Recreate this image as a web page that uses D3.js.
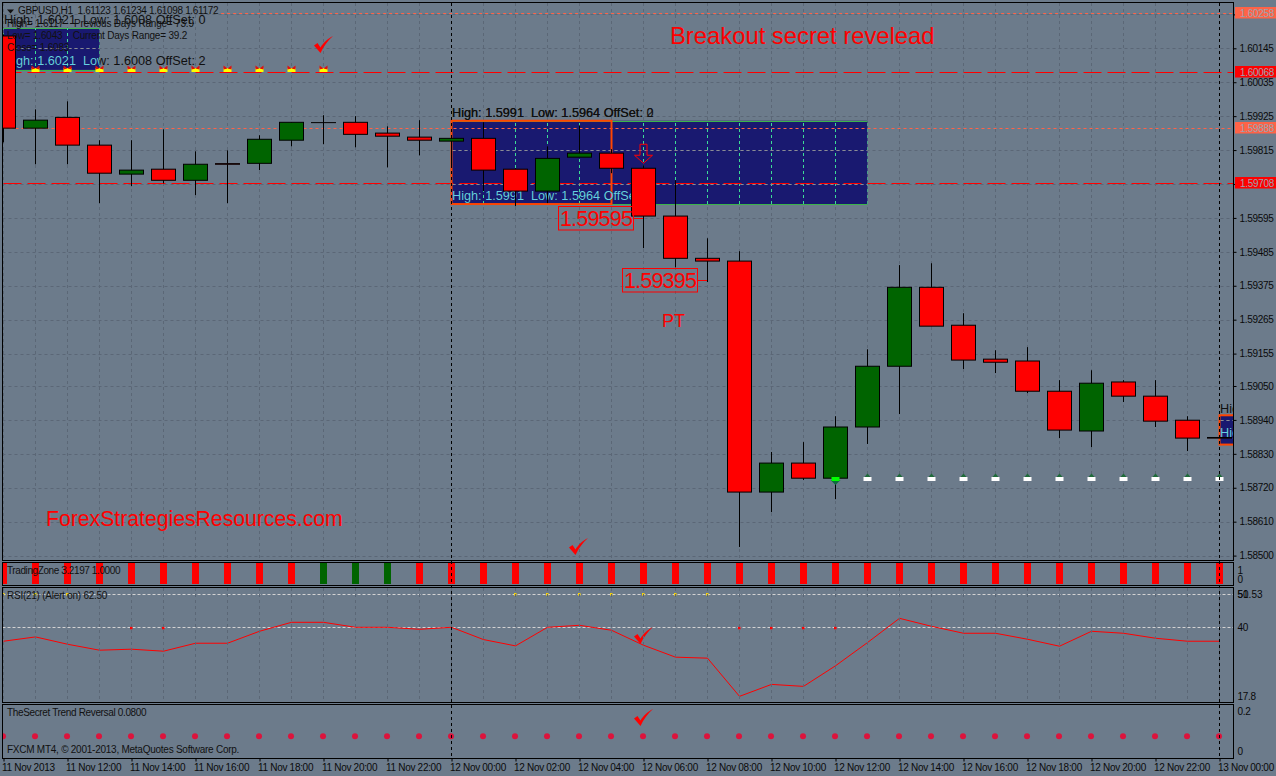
<!DOCTYPE html>
<html>
<head>
<meta charset="utf-8">
<script src="https://cdn.jsdelivr.net/npm/d3@7"></script>
<style>
html, body { margin: 0; padding: 0; background: #6c7b8b; overflow: hidden; }
text { font-family: "Liberation Sans", Arial, sans-serif; }
.axisTxt text { font-size: 10px; letter-spacing: -0.3px; fill: #0a0a0a; }
</style>
</head>
<body>
<div id="chart"></div>
<script>
// candles, one per hour from 11 Nov 10:00
var opens = [1.60185,1.59886,1.59921,1.59831,1.59737,1.59753,1.59717,1.59771,1.59772,1.59847,1.59904,1.59905,1.59870,1.59857,1.59844,1.59853,1.59753,1.59682,1.59792,1.59805,1.59756,1.59601,1.59464,1.59455,1.58706,1.58800,1.58751,1.58917,1.59114,1.59370,1.59247,1.59137,1.59131,1.59033,1.58904,1.59063,1.59017,1.58939,1.58883];
var highs = [1.60190,1.59947,1.59973,1.59847,1.59847,1.59882,1.59811,1.59814,1.59863,1.59905,1.59928,1.59925,1.59892,1.59912,1.59863,1.59905,1.59756,1.59827,1.59895,1.59818,1.59766,1.59717,1.59529,1.59487,1.58836,1.58868,1.58952,1.59169,1.59442,1.59448,1.59286,1.59166,1.59176,1.59069,1.59101,1.59069,1.59069,1.58952,1.58883];
var lows = [1.59840,1.59769,1.59769,1.59643,1.59698,1.59707,1.59669,1.59643,1.59750,1.59827,1.59834,1.59824,1.59759,1.59798,1.59759,1.59682,1.59633,1.59643,1.59792,1.59740,1.59497,1.59435,1.59387,1.58528,1.58641,1.58745,1.58683,1.58862,1.58959,1.59244,1.59105,1.59092,1.59027,1.58881,1.58852,1.58998,1.58917,1.58839,1.58881];
var closes = [1.59886,1.59912,1.59831,1.59740,1.59750,1.59717,1.59769,1.59769,1.59850,1.59905,1.59904,1.59866,1.59860,1.59847,1.59853,1.59750,1.59682,1.59788,1.59805,1.59756,1.59601,1.59464,1.59455,1.58706,1.58800,1.58751,1.58917,1.59114,1.59370,1.59244,1.59134,1.59127,1.59033,1.58907,1.59059,1.59017,1.58936,1.58881,1.58881];

var rsiValues = [35.8,37.1,34.9,33.1,33.4,32.8,35.2,35.2,38.8,41.5,41.5,40.0,40.0,39.4,40.0,36.3,34.4,40.0,40.6,39.1,34.6,31.0,30.7,19.2,22.8,22.2,28.4,35.4,42.7,40.3,38.2,38.2,36.4,34.3,38.8,38.2,36.7,35.8,35.8];
var rsiLevels = [50, 40];
var rsiYellowBars = [0,1,2,16,17,18,19,20,21,22];
var rsiRedBars = [4,5,23,24,25,26];

var tzGreenBars = [10,11,12];
var secretValue = 0.08;

var priceTicks = [1.60255,1.60145,1.60035,1.59925,1.59815,1.59705,1.59595,1.59485,1.59375,1.59265,1.59155,1.59050,1.58940,1.58830,1.58720,1.58610,1.58500];
var levelPrices = [1.60258,1.60068,1.59888,1.59708];

var timeBars = [0,2,4,6,8,10,12,14,16,18,20,22,24,26,28,30,32,34,36,38];
var timeLabels = ["11 Nov 2013","11 Nov 12:00","11 Nov 14:00","11 Nov 16:00","11 Nov 18:00","11 Nov 20:00","11 Nov 22:00","12 Nov 00:00","12 Nov 02:00","12 Nov 04:00","12 Nov 06:00","12 Nov 08:00","12 Nov 10:00","12 Nov 12:00","12 Nov 14:00","12 Nov 16:00","12 Nov 18:00","12 Nov 20:00","12 Nov 22:00","13 Nov 00:00"];

// from bar, to bar, high, low
var zoneFrom = [0,14,38];
var zoneTo = [3,27,42];
var zoneHigh = [1.6021,1.5991,1.58955];
var zoneLow = [1.60075,1.5964,1.58860];

var yellowBars = [1,2,3,4,5,6,7,8,9,10];
var whiteBars = [27,28,29,30,31,32,33,34,35,36,37,38];

var svgWidth = 1276;
var svgHeight = 776;
var bg = "#6c7b8b";

var svg = d3.select("#chart").append("svg")
    .attr("width", svgWidth)
    .attr("height", svgHeight)
    .style("display", "block");

svg.append("rect").attr("width", svgWidth).attr("height", svgHeight).attr("fill", bg);

var left = 2.5, right = 1233.5;
var panes = {
    main: [2.5, 560.5],
    tz: [562.5, 585.5],
    rsi: [587.5, 702.5],
    secret: [704.5, 758.5]
};

var allBars = d3.range(opens.length);
var x = d3.scaleLinear().domain([0, 38]).range([3.5, 1219.5]);
var y = d3.scaleLinear().domain([1.60145, 1.585]).range([48.3, 555.6]);
var yTz = d3.scaleLinear().domain([0, 1]).range([584, 563]);
var yRsi = d3.scaleLinear().domain([17.8, 51.53]).range([701, 589]);
var ySecret = d3.scaleLinear().domain([0, 0.2]).range([753.5, 710.5]);

var defs = svg.append("defs");
defs.append("clipPath").attr("id", "clipAll").append("rect")
    .attr("x", left).attr("y", 2.5).attr("width", right - left).attr("height", 756);
defs.append("clipPath").attr("id", "clipMain").append("rect")
    .attr("x", left).attr("y", 2.5).attr("width", right - left).attr("height", 558);
defs.append("clipPath").attr("id", "clipZones").selectAll("rect")
    .data(zoneFrom).enter().append("rect")
    .attr("x", (d, i) => x(d))
    .attr("y", (d, i) => y(zoneHigh[i]))
    .attr("width", (d, i) => x(zoneTo[i]) - x(d))
    .attr("height", (d, i) => y(zoneLow[i]) - y(zoneHigh[i]));

var main = svg.append("g").attr("clip-path", "url(#clipMain)");

// zones
main.selectAll(".zone").data(zoneFrom).enter().append("rect")
    .attr("class", "zone")
    .attr("x", (d, i) => x(d))
    .attr("y", (d, i) => y(zoneHigh[i]))
    .attr("width", (d, i) => x(zoneTo[i]) - x(d))
    .attr("height", (d, i) => y(zoneLow[i]) - y(zoneHigh[i]))
    .attr("fill", "#191970");

[zoneHigh, zoneLow].forEach(function(edge) {
    main.selectAll(null).data(zoneFrom.slice(0, 2)).enter().append("line")
        .attr("x1", d => x(d))
        .attr("x2", (d, i) => x(zoneTo[i]))
        .attr("y1", (d, i) => Math.round(y(edge[i])) + 0.5)
        .attr("y2", (d, i) => Math.round(y(edge[i])) + 0.5)
        .attr("stroke", "#3cb44b");
});

// grid
function grid(g, color, y0, y1) {
    g.selectAll(null).data(allBars).enter().append("line")
        .attr("x1", d => x(d)).attr("x2", d => x(d))
        .attr("y1", y0).attr("y2", y1)
        .attr("stroke", color)
        .attr("stroke-dasharray", "3,3");
}
var gridColor = "#5b6776";
grid(main, gridColor, 3, 560);
main.selectAll(".hgrid").data(priceTicks).enter().append("line")
    .attr("x1", left).attr("x2", right)
    .attr("y1", d => Math.round(y(d)) + 0.5).attr("y2", d => Math.round(y(d)) + 0.5)
    .attr("stroke", gridColor)
    .attr("stroke-dasharray", "3,3");

var zoneGrid = main.append("g").attr("clip-path", "url(#clipZones)");
grid(zoneGrid, "#3ddc97", 3, 560);
zoneGrid.selectAll(null).data(priceTicks).enter().append("line")
    .attr("x1", left).attr("x2", right)
    .attr("y1", d => Math.round(y(d)) + 0.5).attr("y2", d => Math.round(y(d)) + 0.5)
    .attr("stroke", "#8b8b96")
    .attr("stroke-dasharray", "3,3");

// price levels
var levelColor = ["#ff6347", "#ff0000", "#ff6347", "#ff0000"];
var levelDash = ["3,3", "18,6", "3,3", "18,6"];
var levelStart = [6.8, 0, 0, 0];
main.selectAll(".level").data(levelPrices).enter().append("line")
    .attr("class", "level")
    .attr("x1", (d, i) => x(levelStart[i]))
    .attr("x2", right)
    .attr("y1", d => Math.round(y(d)) + 0.5)
    .attr("y2", d => Math.round(y(d)) + 0.5)
    .attr("stroke", (d, i) => levelColor[i])
    .attr("stroke-dasharray", (d, i) => levelDash[i]);

// orange boxes round the first hours of the zones
var boxFrom = [14, 38];
var boxTo = [19, 42];
var boxHigh = [1.5991, 1.58955];
var boxLow = [1.5964, 1.58860];
main.selectAll(".box").data(boxFrom).enter().append("rect")
    .attr("class", "box")
    .attr("x", d => x(d))
    .attr("y", (d, i) => y(boxHigh[i]))
    .attr("width", (d, i) => x(boxTo[i]) - x(d))
    .attr("height", (d, i) => y(boxLow[i]) - y(boxHigh[i]))
    .attr("fill", "none")
    .attr("stroke", "#ff4500")
    .attr("stroke-width", 2);

// zone captions
var captionFont = 12.7;
function caption(txt, px, py, color, clip) {
    var t = main.append("text")
        .attr("x", px).attr("y", py)
        .attr("font-size", captionFont)
        .attr("fill", color)
        .style("white-space", "pre")
        .text(txt);
    if (clip) t.attr("clip-path", "url(#clipZones)");
    return t;
}
var topCaption = "High: 1.6021  Low: 1.6008 OffSet: ";
var midCaption = "High: 1.5991  Low: 1.5964 OffSet: ";
var inkColor = "#101010";
var zoneText = "#66cfe6";
caption(topCaption + "0", 4, 24, inkColor);
caption(topCaption + "2", 4, 65, inkColor);
caption(topCaption + "2", 4, 65, zoneText, true);
caption(midCaption + "0", 452, 116.5, inkColor);
caption(midCaption + "2", 452, 116.5, inkColor);
caption(midCaption + "2", 452, 200, inkColor);
caption(midCaption + "2", 452, 200, zoneText, true);
caption("High:", 1220, 413, inkColor);
caption("High:", 1220, 437, inkColor);
caption("High:", 1220, 437, zoneText, true);

// leaders for the two targets
var targetBars = [20, 22];
var targetPrices = [1.59595, 1.59395];
main.selectAll(".leader").data(targetPrices).enter().append("line")
    .attr("class", "leader")
    .attr("x1", (d, i) => x(targetBars[i]) - 10).attr("x2", (d, i) => x(targetBars[i]))
    .attr("y1", d => Math.round(y(d)) + 0.5).attr("y2", d => Math.round(y(d)) + 0.5)
    .attr("stroke", "#ff0000");

// candles
var candles = main.selectAll(".candle").data(allBars).enter().append("g").attr("class", "candle");
candles.append("line")
    .attr("x1", d => x(d)).attr("x2", d => x(d))
    .attr("y1", d => y(highs[d])).attr("y2", d => y(lows[d]))
    .attr("stroke", "#000");
candles.append("rect")
    .attr("x", d => x(d) - 12)
    .attr("width", 24)
    .attr("y", d => y(Math.max(opens[d], closes[d])))
    .attr("height", d => Math.max(0.01, Math.abs(y(opens[d]) - y(closes[d]))))
    .attr("fill", d => closes[d] > opens[d] ? "#006400" : "#ff0000")
    .attr("stroke", "#000");

// yellow markers on the upper level
var yMark = y(levelPrices[1]);
var yellow = main.selectAll(".ymark").data(yellowBars).enter().append("g")
    .attr("transform", d => `translate(${x(d)},${Math.round(yMark)})`);
yellow.append("rect").attr("x", -4).attr("y", -4).attr("width", 8).attr("height", 4).attr("fill", "#ffff00");
yellow.append("path").attr("d", "M-4,-6.5L0,-3.5L-4,-2.5ZM4,-6.5L0,-3.5L4,-2.5Z").attr("fill", "#e01010");

// white markers lower down
var whitePrice = 1.58755;
var white = main.selectAll(".wmark").data(whiteBars).enter().append("g")
    .attr("transform", d => `translate(${x(d)},${Math.round(y(whitePrice))})`);
white.append("path").attr("d", "M0,-3.5L3,0L-3,0Z").attr("fill", "#1f6b3a");
white.append("rect").attr("x", -4).attr("y", 0).attr("width", 8).attr("height", 4).attr("fill", "#ffffff");
var lime = main.append("g").attr("transform", `translate(${x(26)},${Math.round(y(whitePrice))})`);
lime.append("path").attr("d", "M-5,3L5,3L0,8Z").attr("fill", "#0e6b3e");
lime.append("rect").attr("x", -4).attr("y", 0).attr("width", 8).attr("height", 4).attr("fill", "#00ff00");

// sell arrow
main.append("path")
    .attr("transform", `translate(${x(20)},${y(1.59756)})`)
    .attr("d", "M-3.5,-24V-13H-9L0,-5L9,-13H3.5V-24Z")
    .attr("fill", "none")
    .attr("stroke", "#ff0000");

// target boxes
var targetText = ["1.59595", "1.59395"];
var targetG = main.selectAll(".target").data(targetPrices).enter().append("g")
    .attr("transform", (d, i) => `translate(${x(targetBars[i]) - 10},${Math.round(y(d))})`);
targetG.append("rect")
    .attr("x", -75).attr("y", -11.5).attr("width", 75).attr("height", 23.5)
    .attr("fill", "none").attr("stroke", "#ff0000");
targetG.append("text")
    .attr("x", -37.5).attr("y", 8)
    .attr("text-anchor", "middle")
    .attr("font-size", 21.5)
    .attr("letter-spacing", "-0.8px")
    .attr("fill", "#ff0000")
    .text((d, i) => targetText[i]);

// chart texts
svg.append("path").attr("d", "M7,9.5H14L10.5,13.5Z").attr("fill", "#111");
function label(txt, px, py, size, color, spacing) {
    return svg.append("text")
        .attr("x", px).attr("y", py)
        .attr("font-size", size)
        .attr("fill", color)
        .attr("letter-spacing", (spacing || 0) + "px")
        .style("white-space", "pre")
        .text(txt);
}
label("GBPUSD,H1  1.61123 1.61234 1.61098 1.61172", 18, 14, 10, inkColor, -0.35);
label("High= 1.6117    Previous Days Range= 73.9", 7, 27, 10, "#111", -0.2);
label("Low= 1.6043    Current Days Range= 39.2", 7, 39, 10, "#111", -0.2);
label("Close= 1.6083", 7, 51, 10, "#111", -0.2);
label("Breakout secret revelead", 670, 44, 23.8, "#ff0000");
label("ForexStrategiesResources.com", 46, 526, 21.2, "#ff0000");
label("PT", 662, 327, 18, "#ff0000");

// check marks
var checkPath = "M0,9.5L3.5,7L6.5,11.5C9,7 14,2.5 19,0C13.5,5 9.5,10.5 6.5,17Z";
var checks = [[314, 36], [569, 538], [634, 627], [634, 709]];
svg.selectAll(".check").data(checks).enter().append("path")
    .attr("d", checkPath)
    .attr("transform", d => `translate(${d[0]},${d[1]})`)
    .attr("fill", "#ff0000");

// TradingZone pane
var indicators = svg.append("g").attr("clip-path", "url(#clipAll)");
indicators.selectAll(".tz").data(allBars).enter().append("rect")
    .attr("x", d => x(d) - 3.5)
    .attr("width", 7)
    .attr("y", yTz(1))
    .attr("height", yTz(0) - yTz(1))
    .attr("fill", d => tzGreenBars.includes(d) ? "#006400" : "#ff0000");
label("TradingZone 3.2197 1.0000", 7, 574, 10, "#111", -0.4);

// RSI pane
var rsiGrid = svg.append("g");
grid(rsiGrid, gridColor, 588, 702);
indicators.selectAll(".rsiLevel").data(rsiLevels).enter().append("line")
    .attr("x1", left).attr("x2", right)
    .attr("y1", d => Math.round(yRsi(d)) + 0.5).attr("y2", d => Math.round(yRsi(d)) + 0.5)
    .attr("stroke", "#d3d3d3")
    .attr("stroke-dasharray", "3,2");
var rsiLine = d3.line().x((d, i) => x(i)).y(d => yRsi(d));
indicators.append("path")
    .attr("d", rsiLine(rsiValues))
    .attr("fill", "none")
    .attr("stroke", "#ff0000");
indicators.selectAll(".rsiY").data(rsiYellowBars).enter().append("rect")
    .attr("x", d => x(d) - 1.5).attr("y", yRsi(50) - 1)
    .attr("width", 2.5).attr("height", 2.5)
    .attr("fill", "#ffd700");
indicators.selectAll(".rsiR").data(rsiRedBars).enter().append("rect")
    .attr("x", d => x(d) - 1.5).attr("y", yRsi(40) - 0.5)
    .attr("width", 2.5).attr("height", 2.5)
    .attr("fill", "#ff0000");
label("RSI(21) (Alert on) 62.50", 7, 599, 10, "#111", -0.25);

// secret trend pane
indicators.selectAll(".dot").data(allBars).enter().append("circle")
    .attr("cx", d => x(d) - 0.5)
    .attr("cy", ySecret(secretValue))
    .attr("r", 3)
    .attr("fill", "#dc143c");
label("TheSecret Trend Reversal 0.0800", 7, 716, 10, "#111", -0.35);
label("FXCM MT4, © 2001-2013, MetaQuotes Software Corp.", 7, 753, 10, "#111", -0.25);

// period separators
var separators = [14, 38];
svg.selectAll(".sep").data(separators).enter().append("line")
    .attr("x1", d => x(d)).attr("x2", d => x(d))
    .attr("y1", 3).attr("y2", 758)
    .attr("stroke", "#000")
    .attr("stroke-dasharray", "3,3");

// pane frames
Object.values(panes).forEach(function(p) {
    svg.append("rect")
        .attr("x", left).attr("y", p[0])
        .attr("width", right - left).attr("height", p[1] - p[0])
        .attr("fill", "none").attr("stroke", "#000");
});

// axes
var priceAxis = d3.axisRight(y).tickValues(priceTicks).tickFormat(d3.format(".5f")).tickSize(3).tickPadding(3);
var priceG = svg.append("g").attr("class", "axisTxt")
    .attr("transform", `translate(${right},0)`)
    .call(priceAxis);
priceG.select(".domain").remove();
priceG.selectAll("line").attr("stroke", "#000");

var timeAxis = d3.axisBottom(x).tickValues(timeBars).tickFormat((d, i) => timeLabels[i]).tickSize(3).tickPadding(2);
var timeG = svg.append("g").attr("class", "axisTxt")
    .attr("transform", "translate(0,758.5)")
    .call(timeAxis);
timeG.select(".domain").remove();
timeG.selectAll("line").attr("stroke", "#000");
timeG.selectAll("text").attr("text-anchor", "start").attr("dx", "-0.2em");

// labels of the lower panes sit a little inside the pane, so shift them
function sideAxis(scale, values, fmt, shift) {
    var g = svg.append("g").attr("class", "axisTxt")
        .attr("transform", `translate(${right},0)`)
        .call(d3.axisRight(scale).tickValues(values).tickFormat(fmt).tickSize(3).tickPadding(1));
    g.select(".domain").remove();
    g.selectAll("line").remove();
    g.selectAll(".tick text").attr("transform", (d, i) => `translate(0,${shift[i]})`);
    return g;
}
sideAxis(yTz, [1, 0], d3.format("d"), [7, -5]);
sideAxis(yRsi, [40, 17.8], d => d, [0, -5]);
svg.selectAll(null).data(["50", "51.53"]).enter().append("text")
    .attr("x", right + 4).attr("y", 598)
    .attr("font-size", 10)
    .attr("fill", "#0a0a0a")
    .text(d => d);
sideAxis(ySecret, [0.2, 0], d => d, [0.5, -1.8]);

// level flags sit over the price labels
var flagColor = ["#ff6347", "#ff0000", "#ff6347", "#ff0000"];
var flags = svg.selectAll(".flag").data(levelPrices).enter().append("g")
    .attr("transform", d => `translate(1235,${Math.round(y(d))})`);
flags.append("rect")
    .attr("x", 0).attr("y", -6).attr("width", 41).attr("height", 11.5)
    .attr("fill", (d, i) => flagColor[i]);
flags.append("text")
    .attr("x", 5).attr("y", 3.5)
    .attr("font-size", 10)
    .attr("letter-spacing", "-0.3px")
    .attr("fill", "#9aa3b0")
    .text(d3.format(".5f"));
</script>
</body>
</html>
